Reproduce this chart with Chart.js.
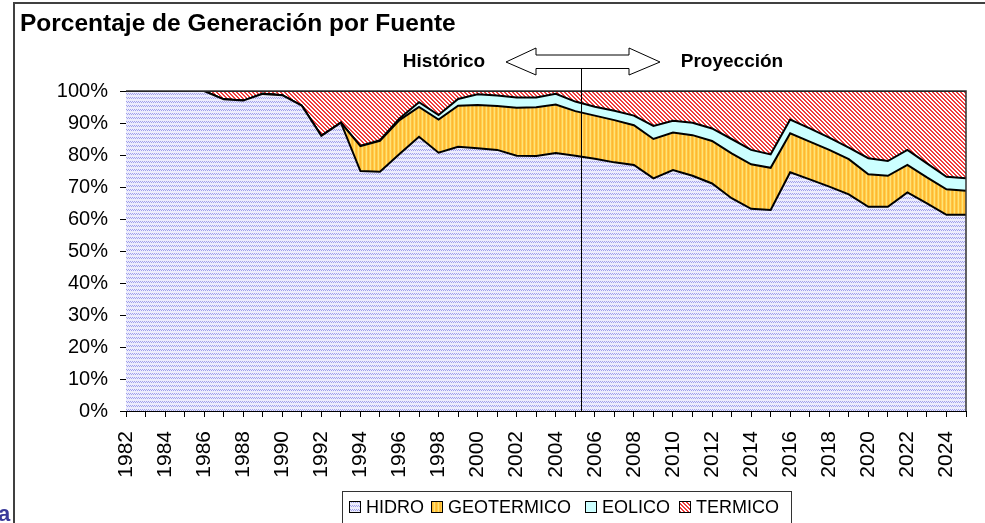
<!DOCTYPE html>
<html>
<head>
<meta charset="utf-8">
<script src="https://cdn.jsdelivr.net/npm/chart.js@4.4.0/dist/chart.umd.min.js"></script>
<style>
  html, body { margin: 0; padding: 0; background: #fff; }
  canvas { display: block; }
</style>
</head>
<body>
<canvas id="genChart" width="985" height="523"></canvas>
<script>
// years on the x axis
const years = [
  1982, 1983, 1984, 1985, 1986, 1987, 1988, 1989, 1990, 1991, 1992, 1993, 1994, 1995,
  1996, 1997, 1998, 1999, 2000, 2001, 2002, 2003, 2004, 2005, 2006, 2007, 2008, 2009,
  2010, 2011, 2012, 2013, 2014, 2015, 2016, 2017, 2018, 2019, 2020, 2021, 2022, 2023,
  2024, 2025
];

// share of generation per source (%)
const hidro = [
  100, 100, 100, 100, 100, 97.4, 97.0, 99.1, 98.7, 95.4, 86.0, 90.1, 75.0, 74.8,
  80.3, 85.7, 80.7, 82.6, 82.1, 81.6, 79.8, 79.7, 80.6, 79.8, 78.8, 77.7, 76.9, 72.7,
  75.3, 73.5, 71.1, 66.5, 63.2, 62.8, 74.6, 72.4, 70.1, 67.7, 63.8, 63.8, 68.3, 64.9,
  61.3, 61.3
];
const geotermico = [
  0, 0, 0, 0, 0, 0, 0, 0, 0, 0, 0, 0, 7.8, 9.6,
  10.6, 9.3, 10.4, 12.8, 13.5, 13.7, 15.0, 15.2, 15.2, 13.9, 13.5, 13.2, 12.4, 12.3,
  11.7, 12.7, 13.3, 14.0, 13.9, 13.2, 12.2, 11.8, 11.5, 11.0, 10.2, 9.7, 8.6, 8.1,
  8.0, 7.5
];
const eolico = [
  0, 0, 0, 0, 0, 0, 0, 0, 0, 0, 0, 0, 0, 0.2,
  0.5, 1.5, 1.4, 2.1, 3.4, 3.3, 3.2, 3.1, 3.3, 3.0, 2.8, 2.9, 3.0, 4.1,
  3.7, 3.9, 3.9, 4.5, 4.5, 4.2, 4.3, 4.1, 3.8, 3.6, 5.0, 4.6, 4.7, 4.4,
  3.9, 3.9
];
const termico = [
  0, 0, 0, 0, 0, 2.6, 3.0, 0.9, 1.3, 4.6, 14.0, 9.9, 17.2, 15.4,
  8.6, 3.5, 7.5, 2.5, 1.0, 1.4, 2.0, 2.0, 0.9, 3.3, 4.9, 6.2, 7.7, 10.9,
  9.3, 9.9, 11.7, 15.0, 18.4, 19.8, 8.9, 11.7, 14.6, 17.7, 21.0, 21.9, 18.4, 22.6,
  26.8, 27.3
];

const yTicks = [0, 10, 20, 30, 40, 50, 60, 70, 80, 90, 100];
const FONT = '"Liberation Sans", Arial, sans-serif';

// fill patterns like the original office chart, built from pixel rows
function makePattern(rows, palette) {
  const h = rows.length, w = rows[0].length;
  const c = document.createElement('canvas');
  c.width = w; c.height = h;
  const g = c.getContext('2d');
  for (let y = 0; y < h; y++) {
    for (let x = 0; x < w; x++) {
      g.fillStyle = palette[rows[y][x]];
      g.fillRect(x, y, 1, 1);
    }
  }
  return g.createPattern(c, 'repeat');
}

const hidroFill = makePattern([
  '0000',
  '1010',
  '0101',
  '0000'
], { '0': '#ececfc', '1': '#a0a0ec' });
const geoFill = makePattern(['abcd'], {
  a: '#ffb732', b: '#ffd04a', c: '#ffe27a', d: '#ffc440'
});
const eolFill = '#ccffff';
const termFill = makePattern([
  'rrww',
  'wrrw',
  'wwrr',
  'rwwr'
], { r: '#f03c3c', w: '#ffffff' });

// frame, title, notes, arrow and legend
const decorations = {
  id: 'decorations',
  beforeDraw(chart) {
    const ctx = chart.ctx;
    ctx.save();
    ctx.fillStyle = '#fff';
    ctx.fillRect(0, 0, chart.width, chart.height);
    ctx.restore();
  },
  afterDraw(chart) {
    const ctx = chart.ctx;
    const area = chart.chartArea;
    const x = chart.scales.x;
    ctx.save();

    // outer frame of the chart object
    ctx.strokeStyle = '#404040';
    ctx.lineWidth = 2;
    ctx.beginPath();
    ctx.moveTo(14, chart.height);
    ctx.lineTo(14, 3);
    ctx.lineTo(chart.width, 3);
    ctx.stroke();

    // plot area border (top and right)
    ctx.strokeStyle = '#333';
    ctx.lineWidth = 1.5;
    ctx.beginPath();
    ctx.moveTo(area.left, area.top);
    ctx.lineTo(area.right, area.top);
    ctx.lineTo(area.right, area.bottom);
    ctx.stroke();

    // title
    ctx.fillStyle = '#000';
    ctx.font = 'bold 24.5px ' + FONT;
    ctx.textBaseline = 'alphabetic';
    ctx.textAlign = 'left';
    ctx.fillText('Porcentaje de Generación por Fuente', 20, 31);

    // split between history and projection (a bit after 2005)
    const i05 = years.indexOf(2005);
    const splitX = x.getPixelForValue(i05) + 0.3 * (x.getPixelForValue(i05 + 1) - x.getPixelForValue(i05));
    ctx.strokeStyle = '#000';
    ctx.lineWidth = 1;
    ctx.beginPath();
    ctx.moveTo(Math.round(splitX) + 0.5, 68);
    ctx.lineTo(Math.round(splitX) + 0.5, area.bottom);
    ctx.stroke();

    // double arrow
    const cy = 62;
    ctx.beginPath();
    ctx.moveTo(506, cy);
    ctx.lineTo(536, 48);
    ctx.lineTo(536, 55);
    ctx.lineTo(629, 55);
    ctx.lineTo(629, 48);
    ctx.lineTo(660, cy);
    ctx.lineTo(629, 75);
    ctx.lineTo(629, 68.5);
    ctx.lineTo(536, 68.5);
    ctx.lineTo(536, 75);
    ctx.closePath();
    ctx.fillStyle = '#fff';
    ctx.fill();
    ctx.stroke();

    ctx.fillStyle = '#000';
    ctx.font = 'bold 19px ' + FONT;
    ctx.textAlign = 'center';
    ctx.textBaseline = 'middle';
    ctx.fillText('Histórico', 444, 62);
    ctx.fillText('Proyección', 732, 62);

    // legend
    const boxL = 342, boxT = 491, boxR = 791;
    ctx.strokeStyle = '#333';
    ctx.lineWidth = 1;
    ctx.strokeRect(boxL + 0.5, boxT + 0.5, boxR - boxL, 40);
    ctx.font = '18px ' + FONT;
    ctx.textAlign = 'left';
    ctx.textBaseline = 'middle';
    const starts = [349, 431, 585, 679];
    chart.data.datasets.forEach((ds, i) => {
      const sx = starts[i];
      ctx.fillStyle = ds.backgroundColor;
      ctx.fillRect(sx, 501, 12, 12);
      ctx.strokeStyle = '#000';
      ctx.strokeRect(sx + 0.5, 501.5, 11, 11);
      ctx.fillStyle = '#000';
      ctx.fillText(ds.label, sx + 17, 508);
    });

    // stray slide letter at the lower left
    ctx.fillStyle = '#3a3a9a';
    ctx.font = 'bold 22px ' + FONT;
    ctx.textAlign = 'left';
    ctx.textBaseline = 'alphabetic';
    ctx.fillText('a', -2, 521);

    ctx.restore();
  }
};

const datasets = [
  { label: 'HIDRO', data: hidro, backgroundColor: hidroFill, fill: 'origin' },
  { label: 'GEOTERMICO', data: geotermico, backgroundColor: geoFill, fill: '-1' },
  { label: 'EOLICO', data: eolico, backgroundColor: eolFill, fill: '-1' },
  { label: 'TERMICO', data: termico, backgroundColor: termFill, fill: '-1' }
].map(d => Object.assign(d, {
  borderColor: '#000',
  borderWidth: 2,
  pointRadius: 0,
  tension: 0
}));

new Chart(document.getElementById('genChart'), {
  type: 'line',
  data: { labels: years.map(String), datasets },
  options: {
    responsive: false,
    animation: false,
    devicePixelRatio: 1,
    layout: { padding: { left: 14, top: 91, right: 19, bottom: 42 } },
    plugins: {
      legend: { display: false },
      title: { display: false },
      tooltip: { enabled: false }
    },
    scales: {
      x: {
        offset: false,
        grid: { drawOnChartArea: false, drawTicks: true, tickLength: 6, color: '#000' },
        border: { display: true, color: '#000', width: 1 },
        ticks: {
          autoSkip: false,
          minRotation: 90,
          maxRotation: 90,
          padding: 14,
          color: '#000',
          font: { family: FONT, size: 21 },
          callback: (v, i) => (years[i] % 2 === 0 ? String(years[i]) : '')
        },
        afterFit: s => {
          s.height = 70;
          s.paddingLeft = 0;
          s.paddingRight = 0;
        }
      },
      y: {
        stacked: true,
        min: yTicks[0],
        max: yTicks[yTicks.length - 1],
        grid: { drawOnChartArea: false, drawTicks: true, tickLength: 6, color: '#000' },
        border: { display: true, color: '#000', width: 1 },
        ticks: {
          stepSize: 10,
          padding: 12,
          color: '#000',
          font: { family: FONT, size: 20 },
          callback: v => v + '%'
        },
        afterFit: s => { s.width = 112; }
      }
    }
  },
  plugins: [decorations]
});
</script>
</body>
</html>
